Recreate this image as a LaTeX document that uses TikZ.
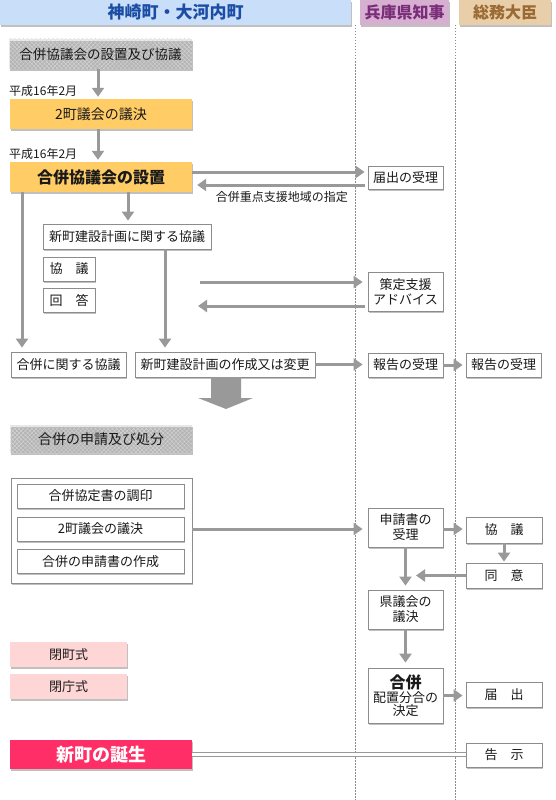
\documentclass[tikz,border=0pt]{standalone}
\usepackage{fontspec}
\setmainfont{Noto Sans CJK JP}
\usetikzlibrary{arrows.meta,shadows,patterns.meta,calc}
\definecolor{arrowgray}{HTML}{999999}
\definecolor{boxgray}{HTML}{8C8C8C}
\definecolor{orangebox}{HTML}{FFCC66}
\definecolor{pinkbox}{HTML}{FFD6D6}
\definecolor{redbox}{HTML}{FF2E66}
\definecolor{hblue}{HTML}{C8DEF9}
\definecolor{hbluetext}{HTML}{1C4DA4}
\definecolor{hpurple}{HTML}{D6AFD1}
\definecolor{hpurpletext}{HTML}{7A2D79}
\definecolor{htan}{HTML}{E8CFA9}
\definecolor{htantext}{HTML}{9B6A34}
\definecolor{hatchbg}{HTML}{ECECEC}
\definecolor{hatchline}{HTML}{DADADA}
\begin{document}
\begin{tikzpicture}[x=1pt,y=-1pt,
  shd/.style={drop shadow={shadow xshift=1pt,shadow yshift=-1.6pt,opacity=0.45,fill=black!55}},
  wh/.style 2 args={minimum width=#1pt,minimum height=#2pt},
  base/.style={inner sep=0pt,align=center,text=black!90,font=\fontsize{13}{15}\selectfont},
  box/.style={base,draw=boxgray,line width=0.8pt,fill=white,shd},
  obox/.style={base,fill=orangebox,shd},
  pbox/.style={base,fill=pinkbox,shd},
  hbox/.style={base,preaction={fill=hatchbg},pattern={Hatch[angle=45,distance=3pt,line width=0.25pt]},pattern color=hatchline,shd},
  head/.style={inner sep=0pt,shd,font=\fontsize{17}{17}\selectfont\bfseries},
  lbl/.style={inner sep=0pt,text=black!90,font=\fontsize{12}{12}\selectfont},
  arr/.style={draw=arrowgray,line width=3pt,-{Triangle[width=12pt,length=9pt]}},
  sgap/.style={shorten >=#1pt},
  dots/.style={draw=black!45,line width=0.6pt,dash pattern=on 1.5pt off 1.5pt}
]
\useasboundingbox (0,0) rectangle (555,800);

% lane separators
\coordinate (l1) at (355,25);
\coordinate (l2) at (455,25);
\draw[dots] (l1) -- (355,800);
\draw[dots] (l2) -- (455,800);

% headers
\node[head,fill=hblue,text=hbluetext,wh={351}{25}] (hA) at (175.5,12.5) {神崎町・大河内町};
\node[head,fill=hpurple,text=hpurpletext,wh={89}{25},font=\fontsize{16}{16}\selectfont\bfseries] (hB) at (404.5,12.5) {兵庫県知事};
\node[head,fill=htan,text=htantext,wh={92}{25},font=\fontsize{16}{16}\selectfont\bfseries] (hC) at (505,12.5) {総務大臣};

% upper part
\node[hbox,wh={183}{30},font=\fontsize{13.5}{15}\selectfont] (s1) at (100.5,54) {合併協議会の設置及び協議};
\node[lbl,anchor=west] (d1) at (9,91) {平成16年2月};
\node[obox,wh={182}{30},font=\fontsize{14}{15}\selectfont] (b1) at (101,114) {2町議会の議決};
\node[lbl,anchor=west] (d2) at (9,154) {平成16年2月};
\node[obox,wh={182}{30},font=\fontsize{16}{16}\selectfont\bfseries] (b2) at (101,177) {合併協議会の設置};
\node[box,wh={75}{23}] (r1) at (405.5,177.5) {届出の受理};
\node[lbl,anchor=east] (sh) at (348,197) {合併重点支援地域の指定};
\node[box,wh={168}{25}] (c1) at (127,236.5) {新町建設計画に関する協議};
\node[box,wh={52}{24}] (k1) at (69,269) {協　議};
\node[box,wh={52}{24}] (k2) at (69,300) {回　答};
\node[box,wh={75}{39}] (r2) at (405.5,291.5) {策定支援\\アドバイス};
\node[box,wh={115}{25}] (m1) at (68.5,364.5) {合併に関する協議};
\node[box,wh={180}{25}] (m2) at (225,364.5) {新町建設計画の作成又は変更};
\node[box,wh={75}{24}] (r3) at (405.5,365) {報告の受理};
\node[box,wh={75}{24}] (r4) at (503.5,365) {報告の受理};

% upper arrows
\coordinate (v1) at (98,0);
\coordinate (v2) at (128,0);
\coordinate (v3) at (22,0);
\coordinate (v4) at (165,0);
\draw[arr,sgap=2] (s1.south -| v1) -- (b1.north -| v1);
\draw[arr,sgap=2] (b1.south -| v1) -- (b2.north -| v1);
\draw[arr,sgap=3] (b2.south -| v2) -- (c1.north -| v2);
\draw[arr,sgap=4] (b2.south -| v3) -- (m1.north -| v3);
\draw[arr,sgap=4] (c1.south -| v4) -- (m2.north -| v4);
\coordinate (a1) at ($(b2.east)+(0,-5)$);
\draw[arr,sgap=3] (a1) -- (a1 -| r1.west);
\coordinate (a2) at ($(b2.east)+(5,8)$);
\draw[arr,shorten <=3pt] (a2 -| r1.west) -- (a2);
\coordinate (u1) at (200,282);
\draw[arr,sgap=5] (u1) -- (u1 -| r2.west);
\coordinate (u2) at (198,306);
\draw[arr,shorten <=3pt] (u2 -| r2.west) -- (u2);
\draw[arr,sgap=5] (m2.east) -- (m2.east -| r3.west);
\draw[arr,sgap=3] (r3.east) -- (r3.east -| r4.west);

% big down arrow
\fill[arrowgray] (211,377) -- (241,377) -- (241,398) -- (253,398) -- (226,409) -- (198,398) -- (211,398) -- cycle;

% lower part
\node[hbox,wh={182}{28},font=\fontsize{14}{15}\selectfont] (s2) at (101,439) {合併の申請及び処分};
\node[box,wh={181}{105}] (g) at (101.5,530.5) {};
\node[box,wh={167}{24}] (g1) at (100.5,496) {合併協定書の調印};
\node[box,wh={167}{24}] (g2) at (100.5,529) {2町議会の議決};
\node[box,wh={167}{24}] (g3) at (100.5,561.5) {合併の申請書の作成};
\node[box,wh={75}{39}] (t1) at (405.5,527.5) {申請書の\\受理};
\node[box,wh={76}{26}] (t2) at (504,530) {協　議};
\node[box,wh={76}{25}] (t3) at (504,575.5) {同　意};
\node[box,wh={75}{39}] (t4) at (405.5,609.5) {県議会の\\議決};
\node[box,wh={75}{55},font=\fontsize{13}{12.5}\selectfont] (t5) at (405.5,695.5) {\textbf{\fontsize{16}{16}\selectfont 合併}\\[1pt]配置分合の\\決定};
\node[box,wh={76}{25}] (t6) at (504,694.5) {届　出};
\node[pbox,wh={117}{25}] (p1) at (68.5,654.5) {閉町式};
\node[pbox,wh={117}{25}] (p2) at (68.5,686.5) {閉庁式};
\node[base,fill=redbox,shd,text=white,wh={182}{29},font=\fontsize{18}{18}\selectfont\bfseries] (n1) at (101,754.5) {新町の誕生};
\node[box,wh={76}{24}] (t7) at (504,755) {告　示};

% lower arrows
\draw[arr,sgap=5] (g.east |- g2.east) -- (g2.east -| t1.west);
\draw[arr,sgap=3] (t1.east |- g2.east) -- (g2.east -| t2.west);
\draw[arr,sgap=1] (t2.south) -- (t3.north);
\coordinate (q1) at (416,0);
\draw[arr] (t3.west) -- (t3.west -| q1);
\draw[arr,sgap=4] (t1.south) -- (t4.north);
\draw[arr,sgap=5] (t4.south) -- (t5.north);
\draw[arr,sgap=3] (t5.east) -- (t5.east -| t6.west);
\draw[draw=arrowgray,line width=0.8pt,double=white,double distance=3pt] (n1.east) -- (n1.east -| t7.west);
\end{tikzpicture}
\end{document}
